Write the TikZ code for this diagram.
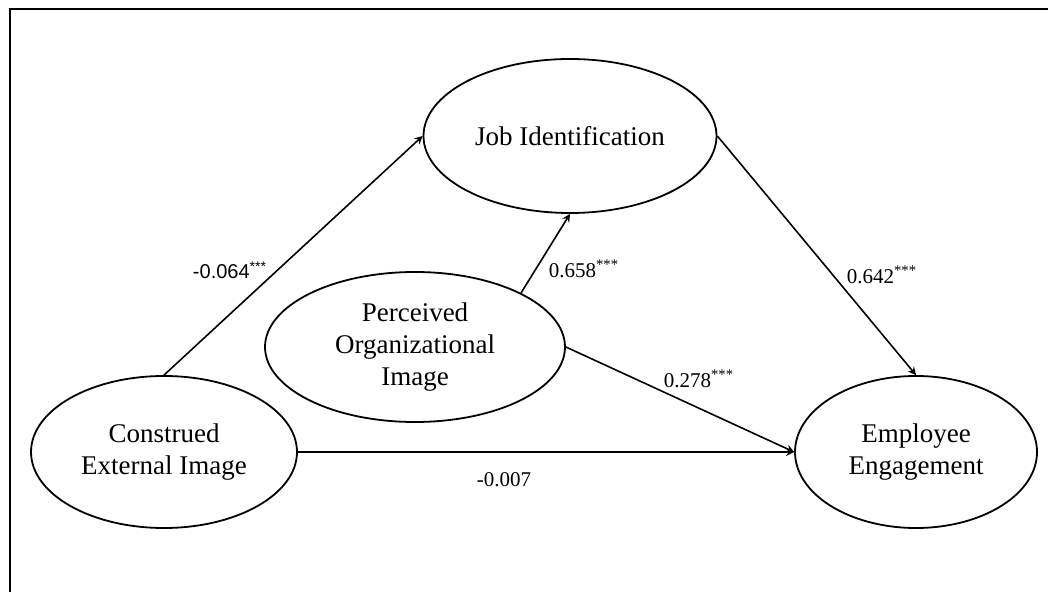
\documentclass[tikz,border=0pt]{standalone}
\usepackage{fontspec}
\setmainfont{Liberation Serif}
\setsansfont{Liberation Sans}
\usepackage{tikz}
\usetikzlibrary{shapes.geometric, arrows}
\tikzstyle{latent} = [ellipse, draw=black, line width=0.9pt, inner sep=0pt, align=center,
                      font=\fontsize{13.5}{16}\selectfont]
\tikzstyle{arrow} = [->,>=stealth, line width=0.8pt]
\tikzstyle{coef} = [inner sep=0pt, font=\fontsize{10.5}{12}\selectfont]

\begin{document}
\begin{tikzpicture}[x=0.5pt, y=-0.5pt]
  \useasboundingbox (0,0) rectangle (1048,592);
  \draw [line width=1pt] (1048,9.5) -- (9.5,9.5) -- (9.5,592);

  \node (ji) [latent, minimum width=146.5pt, minimum height=77pt] at (570,136) {Job Identification};
  \node (poi) [latent, minimum width=150pt, minimum height=75pt] at (415,347) {Perceived\\Organizational\\Image};
  \node (cei) [latent, minimum width=133pt, minimum height=76pt] at (164,452) {Construed\\External Image};
  \node (ee) [latent, minimum width=121pt, minimum height=76pt] at (916,452) {Employee\\Engagement};

  \draw [arrow] (cei.north) -- (ji.west);
  \draw [arrow] (poi.27) -- (ji.south);
  \draw [arrow] (ji.east) -- (ee.north);
  \draw [arrow] (poi.east) -- (ee.west);
  \draw [arrow] (cei.east) -- (ee.west);

  \node (c1) [coef, font=\sffamily\fontsize{10}{12}\selectfont] at (230,270) {-0.064\textsuperscript{***}};
  \node (c2) [coef] at (584,269) {0.658\textsuperscript{***}};
  \node (c3) [coef] at (882,275) {0.642\textsuperscript{***}};
  \node (c4) [coef] at (699,379) {0.278\textsuperscript{***}};
  \node (c5) [coef] at (504,480) {-0.007};
\end{tikzpicture}
\end{document}
